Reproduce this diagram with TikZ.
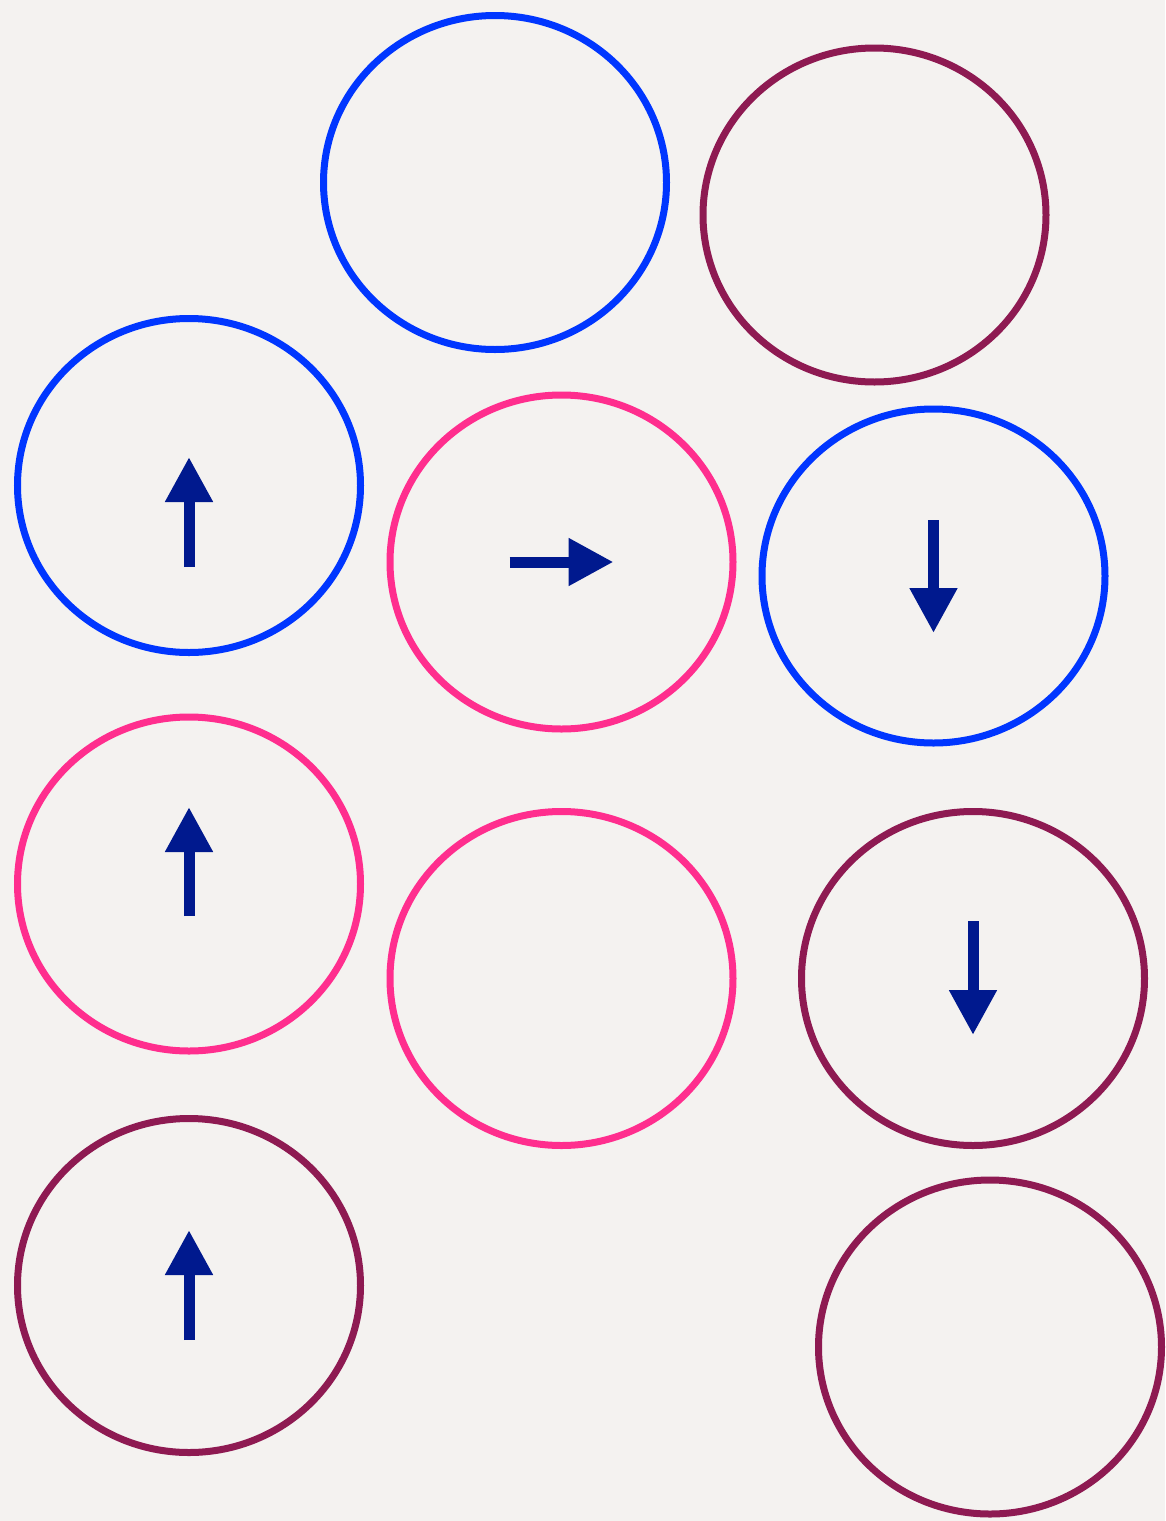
\documentclass[tikz,border=0pt]{standalone}
\usetikzlibrary{shapes.geometric,arrows.meta,calc}
\definecolor{bg}{HTML}{F4F2F0}
\definecolor{cblue}{HTML}{0036FF}
\definecolor{cpink}{HTML}{FF2E8E}
\definecolor{cpurple}{HTML}{8E1A52}
\definecolor{cnavy}{HTML}{00198E}
\begin{document}
\begin{tikzpicture}[x=1pt,y=-1pt,
  ring/.style={ellipse, draw, line width=7pt, inner sep=0pt, outer sep=0pt,
    minimum width=343pt, minimum height=334pt},
  spin/.style={cnavy, line width=11pt, -{Triangle[length=45pt,width=45pt]}}]
\fill[bg] (0,0) rectangle (1165,1521);
\useasboundingbox (0,0) rectangle (1165,1521);
\node[ring, cblue]   (c1)  at (495,182.5) {};
\node[ring, cpurple] (c2)  at (874.5,215) {};
\node[ring, cblue]   (c3)  at (189,485.5) {};
\node[ring, cpink]   (c4)  at (561.5,562) {};
\node[ring, cblue]   (c5)  at (933.5,576) {};
\node[ring, cpink]   (c6)  at (189,884) {};
\node[ring, cpink]   (c7)  at (561.5,978.5) {};
\node[ring, cpurple] (c8)  at (973,978.5) {};
\node[ring, cpurple] (c9)  at (189,1285.5) {};
\node[ring, cpurple] (c10) at (990,1347) {};
\draw[spin] ($(c3.center)+(0,81.5)$) -- ($(c3.center)+(0,-28.5)$);
\draw[spin] ($(c4.center)+(-52,0)$) -- ($(c4.center)+(52,0)$);
\draw[spin] ($(c5.center)+(0,-56)$) -- ($(c5.center)+(0,57)$);
\draw[spin] ($(c6.center)+(0,32)$) -- ($(c6.center)+(0,-77)$);
\draw[spin] ($(c8.center)+(0,-57.5)$) -- ($(c8.center)+(0,56.5)$);
\draw[spin] ($(c9.center)+(0,54.5)$) -- ($(c9.center)+(0,-55.5)$);
\end{tikzpicture}
\end{document}
